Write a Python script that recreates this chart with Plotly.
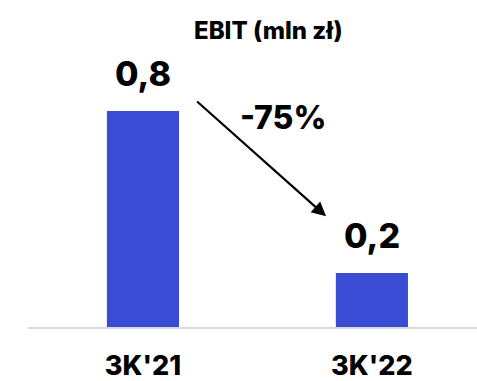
import plotly.graph_objects as go

# EBIT by quarter, mln zł
periods = ["3K'21", "3K'22"]
ebit = [0.8, 0.2]
value_labels = ["0,8", "0,2"]
change_label = "-75%"
title_text = "EBIT (mln zł)"

BAR_COLOR = "#3b4cd4"
FONT = "Inter"

fig = go.Figure()
fig.add_trace(go.Bar(
    x=[0, 1],
    y=ebit,
    width=0.315,
    marker=dict(color=BAR_COLOR, line=dict(width=0)),
    hoverinfo="skip",
))

# value labels above the bars
for i, (v, lab) in enumerate(zip(ebit, value_labels)):
    fig.add_annotation(
        x=i, y=v, xref="x", yref="y", text=lab, showarrow=False,
        yanchor="bottom", yshift=15,
        font=dict(family=FONT, size=34, color="#000000", weight=800),
    )

# trend arrow between the two bars
fig.add_annotation(
    x=0.80, y=ebit[1] + 0.21, ax=0.23, ay=ebit[0] + 0.04,
    xref="x", yref="y", axref="x", ayref="y",
    text="", showarrow=True, arrowhead=2, arrowsize=1.3, arrowwidth=2.2,
    arrowcolor="#000000", standoff=0, startstandoff=0,
)
fig.add_annotation(
    x=0.61, y=0.775, xref="x", yref="y", text=change_label, showarrow=False,
    yanchor="middle",
    font=dict(family=FONT, size=32, color="#000000", weight=800),
)

# chart title, placed in paper space above the bars
fig.add_annotation(
    x=(268 - 28) / 449, y=(327 - 30) / 327, xref="paper", yref="paper",
    text=title_text, showarrow=False, xanchor="center", yanchor="middle",
    font=dict(family=FONT, size=24, color="#000000", weight=800),
)

fig.update_layout(
    width=477, height=381,
    margin=dict(l=28, r=0, t=0, b=54),
    paper_bgcolor="white", plot_bgcolor="white",
    showlegend=False,
    xaxis=dict(
        range=[-0.502, 1.459],
        tickmode="array", tickvals=[0, 1], ticktext=periods,
        showline=True, linecolor="#d9d9d9", linewidth=2,
        showgrid=False, zeroline=False, automargin=False,
        ticks="outside", ticklen=14, tickcolor="rgba(0,0,0,0)",
        tickfont=dict(family=FONT, size=27, color="#000000", weight=800),
    ),
    yaxis=dict(
        range=[0, 327 / 270], visible=False, showgrid=False, zeroline=False,
        automargin=False,
    ),
)

fig.write_html("out.html")
